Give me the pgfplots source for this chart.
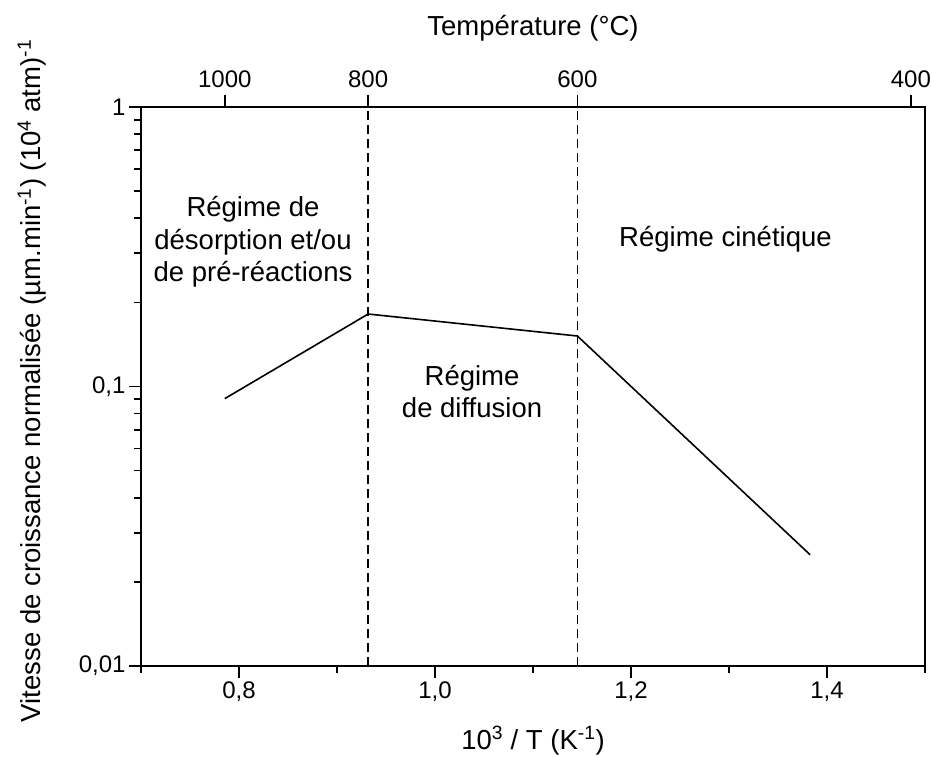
\documentclass[border=0pt]{standalone}
\usepackage{pgfplots}
\pgfplotsset{compat=1.18}
\usepackage{fontspec}
\setmainfont{Liberation Sans}
\newcommand{\tickfont}{\fontsize{24}{28}\selectfont}
\newcommand{\labfont}{\fontsize{27.5}{33}\selectfont}
\begin{document}
\begin{tikzpicture}
\useasboundingbox (-141pt,-90pt) rectangle (791pt,666pt);
\begin{axis}[
  at={(0,0)}, anchor=south west,
  scale only axis, width=784pt, height=559pt,
  xmin=0.7, xmax=1.5, ymode=log, ymin=0.01, ymax=1,
  axis line style={line width=1.7pt},
  xtick={0.8,1.0,1.2,1.4}, xticklabels={{0,8},{1,0},{1,2},{1,4}},
  minor xtick={0.7,0.9,1.1,1.3,1.5},
  ytick={0.01,0.1,1}, yticklabels={{0,01},{0,1},{1}},
  minor ytick={0.02,0.03,0.04,0.05,0.06,0.07,0.08,0.09,0.2,0.3,0.4,0.5,0.6,0.7,0.8,0.9},
  tick align=outside, xtick pos=bottom, ytick pos=left,
  major tick length=12pt, minor tick length=7pt,
  every tick/.style={line width=1.7pt, black},
  tick label style={font=\tickfont},
  xlabel={10\textsuperscript{3} / T (K\textsuperscript{-1})},
  xlabel style={font=\labfont, at={(axis description cs:0.5,0)}, anchor=base, yshift=-83pt},
  ylabel={Vitesse de croissance normalisée (µm.min\textsuperscript{-1}) (10\textsuperscript{4} atm)\textsuperscript{-1}},
  ylabel style={font=\labfont, at={(axis description cs:-0.117,0.51)}, anchor=south},
]
\addplot[black, line width=1.6pt] coordinates {
  (0.7855,0.0905) (0.9318,0.1817) (1.1453,0.1516) (1.3828,0.0250)
};
\addplot[black, line width=1.7pt, dash pattern=on 9pt off 5pt] coordinates {(0.9318,0.01) (0.9318,1)};
\addplot[black, line width=1.7pt, dash pattern=on 9pt off 5pt] coordinates {(1.1453,0.01) (1.1453,1)};
\node[font=\labfont, anchor=base] at (axis cs:0.8143,0.4074) {Régime de};
\node[font=\labfont, anchor=base] at (axis cs:0.8143,0.3104) {désorption et/ou};
\node[font=\labfont, anchor=base] at (axis cs:0.8143,0.2366) {de pré-réactions};
\node[font=\labfont, anchor=base] at (axis cs:1.2964,0.3163) {Régime cinétique};
\node[font=\labfont, anchor=base] at (axis cs:1.0378,0.1012) {Régime};
\node[font=\labfont, anchor=base] at (axis cs:1.0378,0.0772) {de diffusion};
\end{axis}
\begin{axis}[
  at={(0,0)}, anchor=south west,
  scale only axis, width=784pt, height=559pt,
  xmin=0.7, xmax=1.5, ymin=0, ymax=1,
  axis x line*=top, hide y axis,
  axis line style={line width=1.7pt},
  xtick={0.7855,0.9318,1.1453,1.4856}, xticklabels={1000,800,600,400},
  minor xtick={},
  tick align=outside, major tick length=12pt,
  every tick/.style={line width=1.7pt, black},
  tick label style={font=\tickfont},
  xticklabel style={yshift=4pt},
  xlabel={Température (°C)},
  xlabel style={font=\labfont, at={(axis description cs:0.5,1)}, anchor=base, yshift=71pt},
]
\end{axis}
\end{tikzpicture}
\end{document}
